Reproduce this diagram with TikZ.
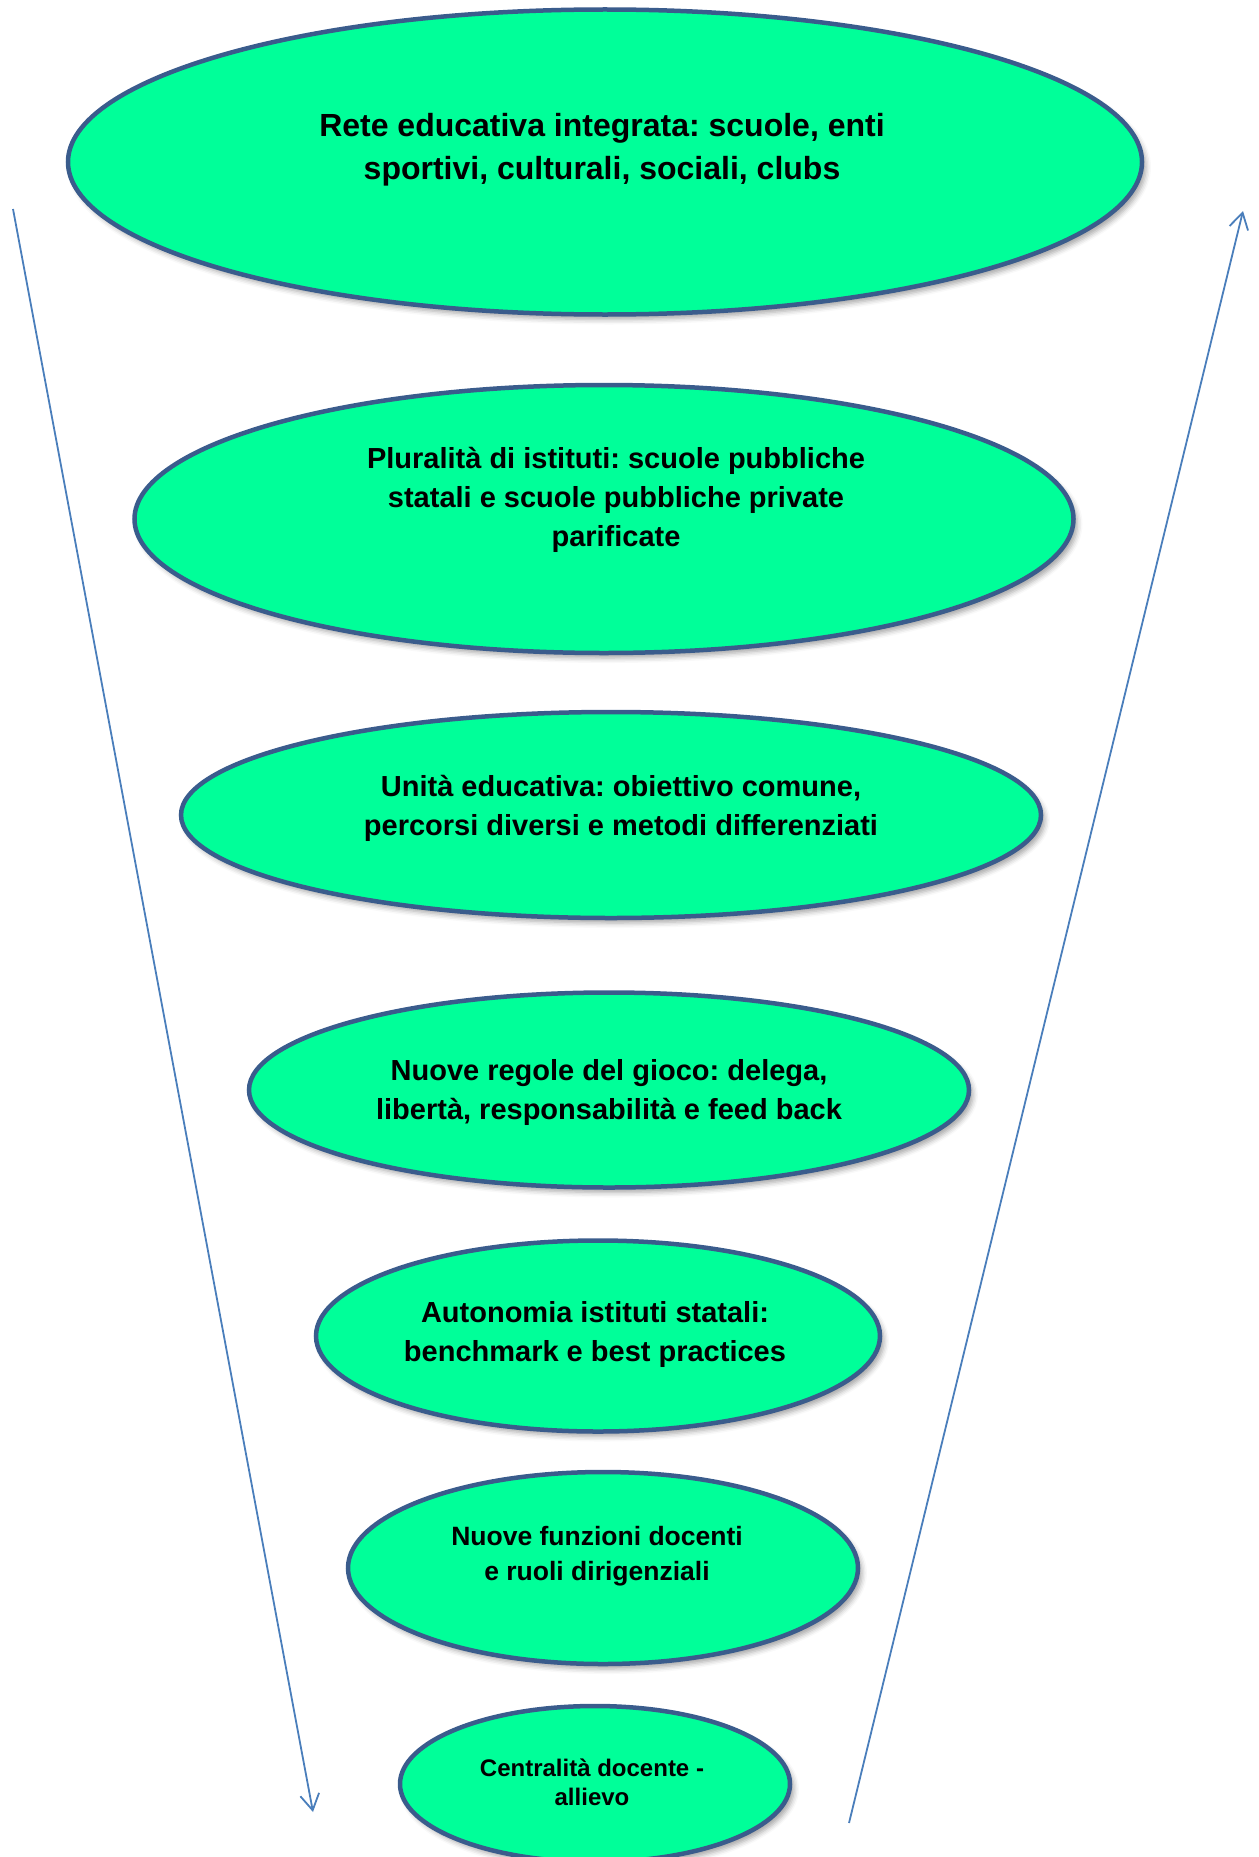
\documentclass[tikz,border=0pt]{standalone}
\usepackage{fontspec}
\setmainfont{Liberation Sans}
\usetikzlibrary{shapes.geometric,arrows.meta,shadows.blur}
\frenchspacing

\definecolor{verdebolla}{RGB}{0,255,153}
\definecolor{bordobolla}{RGB}{58,92,140}
\definecolor{freccia}{RGB}{74,126,187}

\begin{document}
\begin{tikzpicture}[
			x=1pt, y=-1pt,
			bolla/.style={
					ellipse,
					draw=bordobolla,
					line width=4.5pt,
					fill=verdebolla,
					inner sep=0pt,
					blur shadow={shadow xshift=4pt, shadow yshift=-5pt,
							shadow blur radius=5pt, shadow opacity=35}
				},
			testo/.style={
					align=center,
					inner sep=0pt,
					text=black
				},
			>={Straight Barb[length=16pt,width=19pt]}
		]

		\useasboundingbox (0,0) rectangle (1258,1857);

		\node (rete) [bolla, minimum width=1074pt, minimum height=305pt] at (605,162) {};
		\node (reteT) [testo, font=\fontsize{32}{43}\selectfont\bfseries] at (602,150)
		{Rete educativa integrata: scuole, enti\\sportivi, culturali, sociali, clubs};

		\node (plural) [bolla, minimum width=939pt, minimum height=268pt] at (604,519) {};
		\node (pluralT) [testo, font=\fontsize{29}{39}\selectfont\bfseries] at (616,500)
		{Pluralità di istituti: scuole pubbliche\\statali e scuole pubbliche private\\parificate};

		\node (unita) [bolla, minimum width=860pt, minimum height=206pt] at (611,815) {};
		\node (unitaT) [testo, font=\fontsize{29}{39}\selectfont\bfseries] at (621,808)
		{Unità educativa: obiettivo comune,\\percorsi diversi e metodi differenziati};

		\node (regole) [bolla, minimum width=720pt, minimum height=195pt] at (609,1090) {};
		\node (regoleT) [testo, font=\fontsize{29}{39}\selectfont\bfseries] at (609,1092)
		{Nuove regole del gioco: delega,\\libertà, responsabilità e feed back};

		\node (autonom) [bolla, minimum width=564pt, minimum height=191pt] at (598,1336) {};
		\node (autonomT) [testo, font=\fontsize{29}{39}\selectfont\bfseries] at (595,1334)
		{Autonomia istituti statali:\\benchmark e best practices};

		\node (funz) [bolla, minimum width=510pt, minimum height=192pt] at (603,1568) {};
		\node (funzT) [testo, font=\fontsize{26.5}{35}\selectfont\bfseries] at (597,1556)
		{Nuove funzioni docenti\\e ruoli dirigenziali};

		\node (centr) [bolla, minimum width=390pt, minimum height=156pt] at (595,1784) {};
		\node (centrT) [testo, font=\fontsize{24}{29}\selectfont\bfseries] at (592,1782)
		{Centralità docente -\\allievo};

		\coordinate (giuA) at (13,209);
		\coordinate (giuB) at (313,1812);
		\coordinate (suA) at (849,1823);
		\coordinate (suB) at (1243,211);

		\draw[->,freccia,line width=1.8pt] (giuA) -- (giuB);
		\draw[->,freccia,line width=1.8pt] (suA) -- (suB);

	\end{tikzpicture}
\end{document}
